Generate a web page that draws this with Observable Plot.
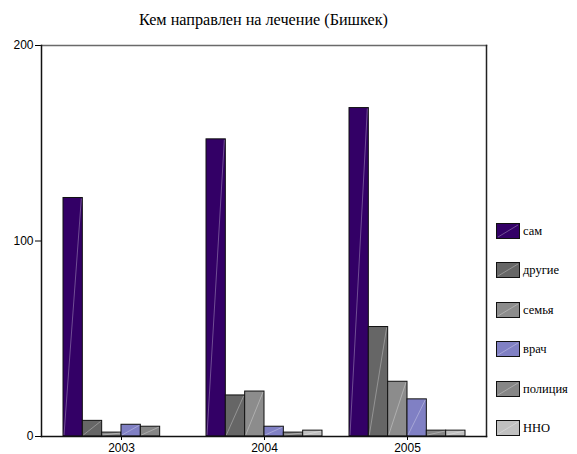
<!DOCTYPE html>
<html>
<head>
<meta charset="utf-8">
<script src="https://cdn.jsdelivr.net/npm/d3@7"></script>
<script src="https://cdn.jsdelivr.net/npm/@observablehq/plot@0.6"></script>
<style>
  body { margin: 0; background: #fff; }
  #wrap { position: relative; width: 577px; height: 454px; overflow: hidden; background: #fff; }
  #title { position: absolute; left: 41px; width: 445px; top: 11px; text-align: center;
           font: 16.2px "Liberation Serif", "Times New Roman", serif; line-height: 18px; color: #000; }
  #chart { position: absolute; left: 0; top: 30px; }
  #legend { position: absolute; left: 496px; top: 0; font: 12.5px "Liberation Serif", "Times New Roman", serif; color: #000; }
  .item { position: absolute; left: 0; height: 16px; white-space: nowrap; }
  .item svg { position: absolute; left: 0; top: 0; }
  .item span { position: absolute; left: 27px; top: 0; line-height: 16px; }
</style>
</head>
<body>
<div id="wrap">
  <div id="title"></div>
  <div id="chart"></div>
  <div id="legend"></div>
</div>
<script>
// Who referred patients for treatment, Bishkek, by year
const title = "Кем направлен на лечение (Бишкек)";
const years = ["2003", "2004", "2005"];
const series = ["сам", "другие", "семья", "врач", "полиция", "ННО"];
const colors = ["#330066", "#666666", "#8c8c8c", "#8080c4", "#868686", "#c0c0c0"];

const sam      = [122, 152, 168];
const drugie   = [8, 21, 56];
const semya    = [2, 23, 28];
const vrach    = [6, 5, 19];
const policiya = [5, 2, 3];
const nno      = [0, 3, 3];

const yTicks = [0, 100, 200];

const seriesValues = [sam, drugie, semya, vrach, policiya, nno];
const rows = [];
years.forEach((year, i) => {
  series.forEach((s, j) => rows.push({year, series: s, value: seriesValues[j][i]}));
});

document.getElementById("title").textContent = title;

const layout = {
  width: 577,
  height: 424,
  marginTop: 15,
  marginBottom: 18,
  marginLeft: 41,
  marginRight: 91,
  style: {fontFamily: "'Liberation Sans', Arial, sans-serif", fontSize: "12px", color: "#000", background: "transparent"},
  x: {domain: years, paddingInner: 0.19, paddingOuter: 0.148, label: null},
  y: {domain: [0, 200], label: null},
  color: {domain: series, range: colors}
};

// width of one year's band, as laid out by the x scale
const probe = Plot.plot({...layout, marks: [Plot.barY(rows, {x: "year", y: "value"})]});
const probeRect = probe.querySelector('g[aria-label="bar"] rect');
const band = probeRect ? +probeRect.getAttribute("width") : probe.scale("x").bandwidth;
const slot = band / series.length;

// one bar mark per series, each occupying its own slot inside the year's band
const barMarks = series.map((s, j) =>
  Plot.barY(rows.filter(d => d.series === s), {
    x: "year", y: "value", fill: "series", stroke: "#111", strokeWidth: 1,
    insetLeft: j * slot, insetRight: (series.length - 1 - j) * slot
  })
);

const chart = Plot.plot({
  ...layout,
  marks: [
    ...barMarks,
    Plot.axisX({tickSize: 4, tickPadding: 3, label: null}),
    Plot.axisY({ticks: yTicks, tickSize: 6, tickPadding: 2, label: null}),
    Plot.frame({anchor: "top", stroke: "#6a6a6a", strokeWidth: 1.5}),
    Plot.frame({anchor: "right", stroke: "#222", strokeWidth: 1.5}),
    Plot.frame({anchor: "left", stroke: "#111", strokeWidth: 1.5}),
    Plot.frame({anchor: "bottom", stroke: "#111", strokeWidth: 1.5})
  ]
});
document.getElementById("chart").appendChild(chart);

// light diagonal sheen across each bar, corner to corner
d3.select(chart).selectAll('g[aria-label="bar"] rect').each(function () {
  const r = d3.select(this);
  const x = +r.attr("x"), y = +r.attr("y"), w = +r.attr("width"), h = +r.attr("height");
  if (!(h > 2)) return;
  d3.select(this.parentNode).append("line")
    .attr("x1", x + 1).attr("y1", y + h - 1)
    .attr("x2", x + w - 1).attr("y2", y + 1)
    .attr("stroke", "#fff").attr("stroke-opacity", 0.3).attr("stroke-width", 1);
});

// legend on the right
const legend = d3.select("#legend");
series.forEach((s, i) => {
  const item = legend.append("div").attr("class", "item").style("top", (223 + i * 39.4) + "px");
  const sw = item.append("svg").attr("width", 25).attr("height", 17);
  sw.append("rect").attr("x", 0.5).attr("y", 0.5).attr("width", 23).attr("height", 15)
    .attr("fill", colors[i]).attr("stroke", "#111");
  sw.append("line").attr("x1", 2).attr("y1", 14).attr("x2", 22).attr("y2", 2)
    .attr("stroke", "#fff").attr("stroke-opacity", 0.3);
  item.append("span").text(s);
});
</script>
</body>
</html>
